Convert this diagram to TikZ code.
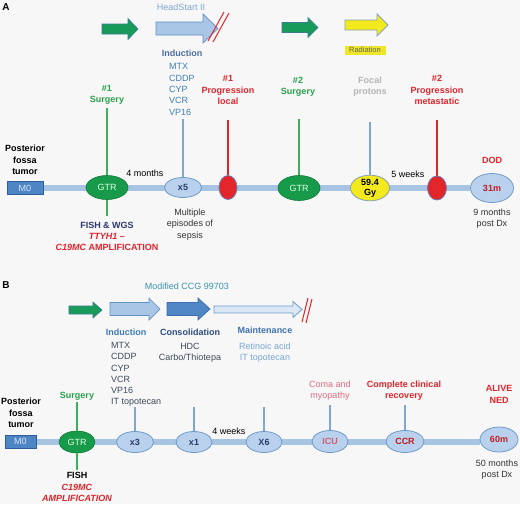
\documentclass[tikz,border=0pt]{standalone}
\usepackage{fontspec}
\setmainfont{Liberation Sans}
\usetikzlibrary{shapes.geometric,backgrounds}
\definecolor{bgC}{HTML}{F7F7F7}
\definecolor{tlC}{HTML}{A7C4E2}
\definecolor{ellF}{HTML}{B9D1EC}
\definecolor{ellB}{HTML}{6E9BCB}
\definecolor{m0F}{HTML}{4E85C5}
\definecolor{m0D}{HTML}{2F5F98}
\definecolor{m0T}{HTML}{D8E4F2}
\definecolor{gtrF}{HTML}{179A4A}
\definecolor{gtrD}{HTML}{0E7A38}
\definecolor{redF}{HTML}{E3262B}
\definecolor{redD}{HTML}{6E7FB8}
\definecolor{yelF}{HTML}{F2EA1C}
\definecolor{yelD}{HTML}{8AA0B8}
\definecolor{garF}{HTML}{179A5A}
\definecolor{garD}{HTML}{3B7D8F}
\definecolor{barF}{HTML}{A9C6E6}
\definecolor{barD}{HTML}{5F8FC4}
\definecolor{conF}{HTML}{4F86C6}
\definecolor{conD}{HTML}{3B6FAF}
\definecolor{maiF}{HTML}{DCE8F5}
\definecolor{maiD}{HTML}{6F9BCB}
\definecolor{hsC}{HTML}{7FA6D4}
\definecolor{indA}{HTML}{4E6E9E}
\definecolor{drugA}{HTML}{3F7FB5}
\definecolor{grT}{HTML}{2AA04A}
\definecolor{rdT}{HTML}{E0242B}
\definecolor{gyT}{HTML}{B5B5B5}
\definecolor{nvT}{HTML}{2E3A6B}
\definecolor{tealT}{HTML}{3A93AE}
\definecolor{indB}{HTML}{3E78B8}
\definecolor{conT}{HTML}{2D4F7E}
\definecolor{maiT}{HTML}{3E72AD}
\definecolor{drugB}{HTML}{3D4A5C}
\definecolor{retT}{HTML}{79A6D6}
\definecolor{pinkT}{HTML}{E26A7E}
\definecolor{dkT}{HTML}{333333}
\definecolor{radY}{HTML}{EEE62A}
\definecolor{radT}{HTML}{666655}
\definecolor{vlB}{HTML}{7EA6D0}
\definecolor{vlG}{HTML}{3DB05A}
\definecolor{slR}{HTML}{E8262B}
\newcommand{\harrow}[7]{%
  \draw[#1] (#2,#4-#5) -- (#3-#7,#4-#5) -- (#3-#7,#4-#6) -- (#3,#4)
    -- (#3-#7,#4+#6) -- (#3-#7,#4+#5) -- (#2,#4+#5) -- cycle;}
\begin{document}
\begin{tikzpicture}[x=1pt,y=-1pt,
  txt/.style={align=center,inner sep=1pt,font=\fontsize{9}{11.3}\selectfont},
  btxt/.style={align=center,inner sep=1pt,font=\fontsize{9}{11.3}\selectfont\bfseries},
  ell/.style={ellipse,draw=ellB,fill=ellF,line width=0.8pt,inner sep=0pt,text=nvT,
    font=\fontsize{9}{10}\selectfont\bfseries},
  gtr/.style={ellipse,draw=gtrD,fill=gtrF,line width=0.6pt,inner sep=0pt,text=white!88!green,
    font=\fontsize{9}{10}\selectfont},
  redell/.style={ellipse,draw=redD,fill=redF,line width=0.8pt,inner sep=0pt},
  mzero/.style={rectangle,draw=m0D,fill=m0F,line width=0.6pt,inner sep=0pt,text=m0T,
    font=\fontsize{9}{10}\selectfont},
  tl/.style={line width=6pt,color=tlC},
  vlb/.style={line width=1.1pt,color=vlB},
  vlg/.style={line width=1.1pt,color=vlG},
  vlr/.style={line width=1.1pt,color=rdT},
  garrow/.style={fill=garF,draw=garD,line width=0.6pt},
  barrow/.style={fill=barF,draw=barD,line width=0.7pt},
  yarrow/.style={fill=yelF,draw=yelD,line width=0.8pt},
  carrow/.style={fill=conF,draw=conD,line width=0.7pt},
  marrow/.style={fill=maiF,draw=maiD,line width=0.8pt},
  slash/.style={line width=1pt,color=slR}]
\useasboundingbox (0,0) rectangle (520,504);
\begin{pgfonlayer}{background}
  \fill[bgC] (0,0) rectangle (520,504);
\end{pgfonlayer}

% ================= Panel A =================
\node[btxt,font=\fontsize{10}{12}\selectfont\bfseries] (labA) at (6,7) {A};
\harrow{garrow}{102}{138}{29}{5}{10.5}{10}
\harrow{barrow}{156}{218}{28.5}{6.5}{14.5}{15}
\draw[slash] (208,41) -- (224,12);
\draw[slash] (213,42) -- (229,13);
\harrow{garrow}{282}{318}{27.5}{5}{10}{10}
\harrow{yarrow}{345}{388}{25}{5}{11}{11}
\node[fill=radY,text=radT,inner sep=0pt,minimum width=41pt,minimum height=9pt,
  font=\fontsize{7.5}{9}\selectfont] (rad) at (365,50) {Radiation};

\node[txt,text=hsC] (hs) at (181,7) {HeadStart II};
\node[btxt,text=indA] (indAl) at (182,53) {Induction};
\node[txt,text=drugA,align=left,anchor=west,inner sep=0pt] (drugsA) at (169,89.5)
  {MTX\\CDDP\\CYP\\VCR\\VP16};
\node[btxt,text=grT] (surg1) at (107,95) {\#1\\Surgery};
\node[btxt,text=rdT] (prog1) at (228,90) {\#1\\Progression\\local};
\node[btxt,text=grT] (surg2) at (298,86.5) {\#2\\Surgery};
\node[btxt,text=gyT] (focal) at (370,86.5) {Focal\\protons};
\node[btxt,text=rdT] (prog2) at (437,90) {\#2\\Progression\\metastatic};
\node[btxt,text=rdT] (dod) at (492,160) {DOD};
\node[btxt] (pftA) at (25,160) {Posterior\\fossa\\tumor};

\node[mzero,minimum width=36pt,minimum height=13pt] (m0a) at (25,188) {M0};
\node[gtr,minimum width=42pt,minimum height=24pt] (gtr1) at (107,187.5) {GTR};
\node[ell,minimum width=37pt,minimum height=20pt] (x5) at (183,187.5) {x5};
\node[redell,minimum width=18pt,minimum height=24pt] (r1) at (228,187.5) {};
\node[gtr,minimum width=42pt,minimum height=25pt] (gtr2) at (299,188) {GTR};
\node[ellipse,draw=yelD,fill=yelF,line width=0.8pt,inner sep=0pt,minimum width=39pt,
  minimum height=24pt,align=center,font=\fontsize{9}{10}\selectfont\bfseries] (gy) at (370,188) {59.4\\Gy};
\node[redell,minimum width=19pt,minimum height=24pt] (r2) at (437,188) {};
\node[ell,text=rdT!85!black,minimum width=43pt,minimum height=29pt] (m31) at (492,188) {31m};

\node[txt] (fourm) at (145,173) {4 months};
\node[txt] (fivew) at (408,174) {5 weeks};
\node[txt,text=dkT] (sepsis) at (190,224.5) {Multiple\\episodes of\\sepsis};
\node[btxt,text=nvT] (fishA) at (107,236.5)
  {FISH \& WGS\\\textcolor{rdT}{\textit{TTYH1} –}\\\textcolor{rdT}{\textit{C19MC} AMPLIFICATION}};
\node[txt,text=dkT] (ninem) at (492,218.5) {9 months\\post Dx};

\begin{pgfonlayer}{background}
  \draw[tl] (m0a.east) -- (m0a.east -| m31.west);
\end{pgfonlayer}
\draw[vlg,shorten >=2pt] (gtr1.north) -- (gtr1.north |- surg1.south);
\draw[vlg,shorten >=5pt] (gtr1.south) -- (gtr1.south |- fishA.north);
\draw[vlb,shorten >=4pt] (x5.north) -- (x5.north |- drugsA.south);
\draw[vlr,shorten >=14pt] (r1.north) -- (r1.north |- prog1.south);
\draw[vlg,shorten >=22pt] (gtr2.north) -- (gtr2.north |- surg2.south);
\draw[vlb,shorten >=24pt] (gy.north) -- (gy.north |- focal.south);
\draw[vlr,shorten >=14pt] (r2.north) -- (r2.north |- prog2.south);

% ================= Panel B =================
\node[btxt,font=\fontsize{10}{12}\selectfont\bfseries] (labB) at (6,285) {B};
\node[txt,text=tealT] (mod) at (187,286) {Modified CCG 99703};
\harrow{garrow}{69}{102}{310}{4}{8}{9}
\harrow{barrow}{110}{160}{309}{6.5}{11}{11}
\harrow{carrow}{167}{210}{309}{6.5}{11}{12}
\harrow{marrow}{214}{302}{309.5}{3.5}{8}{9}
\draw[slash] (302,322) -- (308,298);
\draw[slash] (306,323) -- (312,299);

\node[btxt,text=indB] (indBl) at (126,332) {Induction};
\node[btxt,text=conT] (consB) at (190,332) {Consolidation};
\node[btxt,text=maiT] (maintB) at (265,330) {Maintenance};
\node[txt,text=drugB,align=left,anchor=west,inner sep=0pt] (drugsB) at (111,374.5)
  {MTX\\CDDP\\CYP\\VCR\\VP16\\IT topotecan};
\node[txt,text=drugB] (hdc) at (190,352.5) {HDC\\Carbo/Thiotepa};
\node[txt,text=retT] (ret) at (265,352.5) {Retinoic acid\\IT topotecan};

\node[btxt] (pftB) at (21,413) {Posterior\\fossa\\tumor};
\node[btxt,text=grT] (surgB) at (77,396) {Surgery};
\node[txt,text=pinkT] (coma) at (330,390.5) {Coma and\\myopathy};
\node[btxt,text=rdT] (ccrl) at (404,390.5) {Complete clinical\\recovery};
\node[btxt,text=rdT] (alive) at (499,394.5) {ALIVE\\NED};

\node[mzero,minimum width=31pt,minimum height=13pt] (m0b) at (20.5,441.5) {M0};
\node[gtr,minimum width=36pt,minimum height=22pt] (gtrB) at (77,442) {GTR};
\node[ell,minimum width=37pt,minimum height=21pt] (x3) at (135,442) {x3};
\node[ell,minimum width=36pt,minimum height=21pt] (x1) at (194,442) {x1};
\node[ell,minimum width=36pt,minimum height=21pt] (x6) at (264,442) {X6};
\node[ell,text=pinkT!90!black,minimum width=36pt,minimum height=22pt] (icu) at (330,441.5) {ICU};
\node[ell,text=rdT!85!black,minimum width=38pt,minimum height=22pt] (ccr) at (405,441.5) {CCR};
\node[ell,text=rdT!85!black,minimum width=38pt,minimum height=25pt] (m60) at (499,439.5) {60m};

\node[txt] (fourw) at (229,431) {4 weeks};
\node[btxt] (fishB) at (77,487)
  {FISH\\\textcolor{rdT}{\textit{C19MC}}\\\textcolor{rdT}{\textit{AMPLIFICATION}}};
\node[txt,text=dkT] (fiftym) at (497,469.5) {50 months\\post Dx};

\begin{pgfonlayer}{background}
  \draw[tl] (m0b.east) -- (m0b.east -| m60.west);
\end{pgfonlayer}
\draw[vlg,shorten >=1pt] (gtrB.north) -- (gtrB.north |- surgB.south);
\draw[vlg,shorten >=1pt] (gtrB.south) -- (gtrB.south |- fishB.north);
\draw[vlb] (x3.north) -- (x3.north |- drugsB.south);
\draw[vlb] (x1.north) -- (x1.north |- drugsB.south);
\draw[vlb] (x6.north) -- (x6.north |- drugsB.south);
\draw[vlb,shorten >=3pt] (icu.north) -- (icu.north |- coma.south);
\draw[vlb,shorten >=3pt] (ccr.north) -- (ccr.north |- ccrl.south);
\end{tikzpicture}
\end{document}
